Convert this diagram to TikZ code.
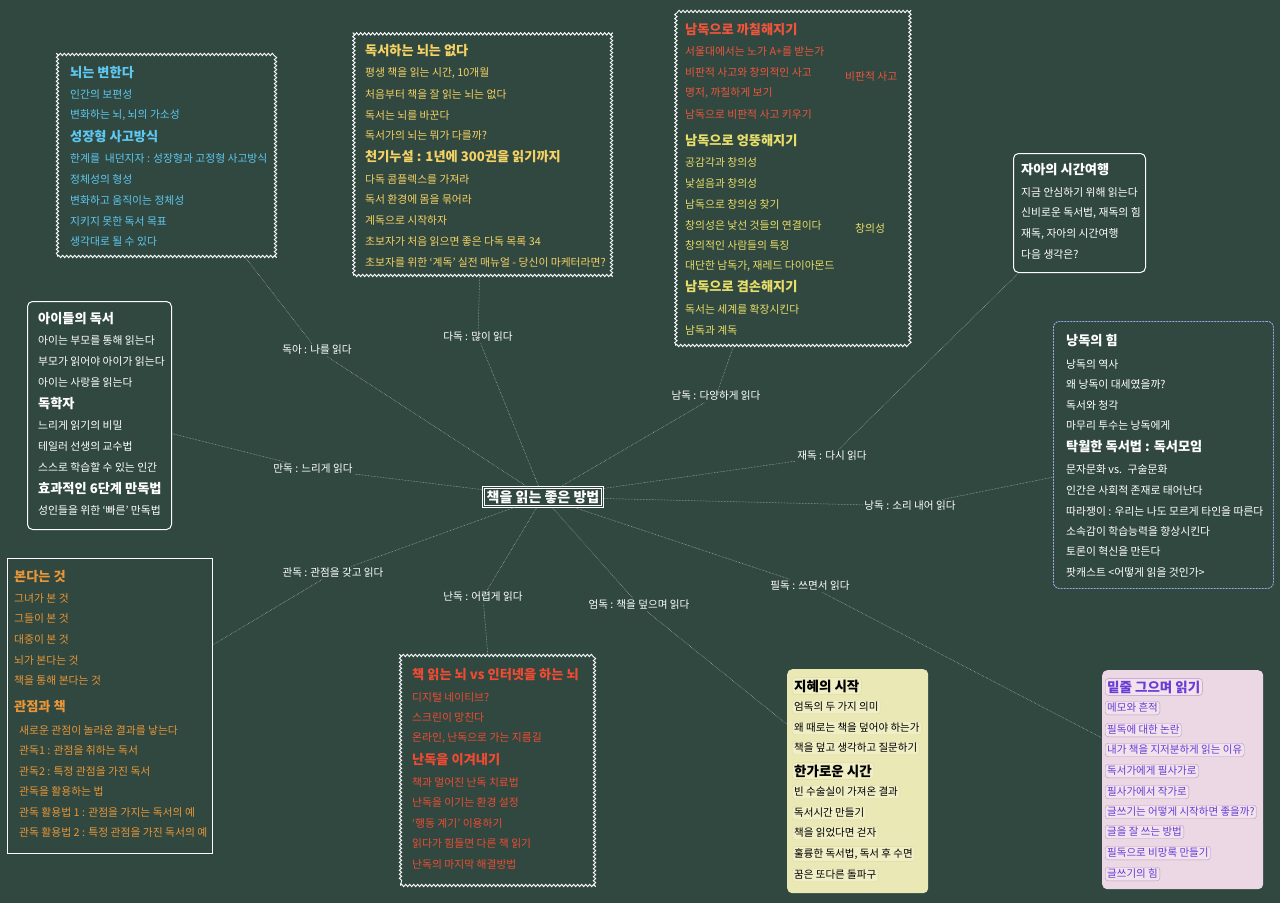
\documentclass[tikz,border=0pt]{standalone}
\usepackage{fontspec}
\setmainfont{Noto Sans CJK KR}
\usetikzlibrary{decorations.pathmorphing}
\definecolor{bg}{RGB}{48,72,64}
\definecolor{cyanT}{RGB}{95,200,240}
\definecolor{goldT}{RGB}{245,210,100}
\definecolor{redT}{RGB}{238,85,60}
\definecolor{yelT}{RGB}{232,222,105}
\definecolor{oraT}{RGB}{232,150,55}
\definecolor{red2T}{RGB}{240,75,50}
\definecolor{purT}{RGB}{105,60,215}
\definecolor{yfill}{RGB}{234,232,180}
\definecolor{yitemf}{RGB}{240,238,196}
\definecolor{yitemd}{RGB}{222,219,165}
\definecolor{pfill}{RGB}{236,216,228}
\definecolor{pitemf}{RGB}{241,226,236}
\definecolor{pitemd}{RGB}{185,150,195}
\definecolor{lav}{RGB}{150,170,230}
\definecolor{connC}{RGB}{185,195,190}
\begin{document}
\begin{tikzpicture}[x=1pt,y=-1pt,
  conn/.style={draw=connC, line width=0.5pt, densely dotted},
  lbl/.style={text=white, font=\fontsize{10.6}{12}\selectfont, inner sep=1.5pt},
  itm/.style={anchor=west, inner sep=0pt, font=\fontsize{10.8}{12}\selectfont},
  hdr/.style={anchor=west, inner sep=0pt, font=\fontsize{13.2}{15}\selectfont\bfseries},
  wavy/.style={draw=white, line width=0.9pt, decorate, decoration={snake, segment length=4pt, amplitude=1.2pt}, anchor=north west, inner sep=0pt},
  rbox/.style={draw=white, line width=1pt, rounded corners=5pt, anchor=north west, inner sep=0pt},
  yit/.style={anchor=west, inner sep=2pt, rounded corners=3pt, draw=yitemd, fill=yitemf, text=black, font=\fontsize{10.5}{12}\selectfont},
  yhd/.style={yit, font=\fontsize{13.5}{15}\selectfont\bfseries},
  pit/.style={anchor=west, inner sep=2pt, rounded corners=3pt, draw=pitemd, fill=pitemf, text=purT, font=\fontsize{10.5}{12}\selectfont},
  phd/.style={pit, font=\fontsize{13.5}{15}\selectfont\bfseries}
]
\fill[bg] (0,0) rectangle (1280,903);
\useasboundingbox (0,0) rectangle (1280,903);

% ---------- boxes ----------
\node[wavy, minimum width=218pt, minimum height=203pt] (b1) at (57,53) {};
\node[wavy, minimum width=259pt, minimum height=244pt] (b2) at (353,31) {};
\node[wavy, minimum width=233pt, minimum height=334pt] (b3) at (675,11) {};
\node[rbox, minimum width=132pt, minimum height=119pt] (b4) at (1013,153) {};
\node[draw=lav, line width=0.9pt, rounded corners=6pt, dash pattern=on 2pt off 1pt, anchor=north west, inner sep=0pt, minimum width=220pt, minimum height=267pt] (b5) at (1053,321) {};
\node[rbox, minimum width=144pt, minimum height=228pt] (b6) at (27,301) {};
\node[draw=white, line width=1pt, anchor=north west, inner sep=0pt, minimum width=205pt, minimum height=295pt] (b7) at (7,558) {};
\node[wavy, minimum width=194pt, minimum height=230pt] (b8) at (400,655) {};
\node[fill=yfill, rounded corners=5pt, anchor=north west, inner sep=0pt, minimum width=141pt, minimum height=224pt] (b9) at (787,669) {};
\node[fill=pfill, rounded corners=5pt, anchor=north west, inner sep=0pt, minimum width=161pt, minimum height=219pt] (b10) at (1102,670) {};

% ---------- box 1 ----------
\begin{scope}[text=cyanT]
\node[hdr] (a1) at (70,73) {뇌는 변한다};
\node[itm] (a2) at (70,94) {인간의 보편성};
\node[itm] (a3) at (70,115) {변화하는 뇌, 뇌의 가소성};
\node[hdr] (a4) at (70,137) {성장형 사고방식};
\node[itm] (a5) at (70,158) {한계를 ~내던지자 : 성장형과 고정형 사고방식};
\node[itm] (a6) at (70,179) {정체성의 형성};
\node[itm] (a7) at (70,200) {변화하고 움직이는 정체성};
\node[itm] (a8) at (70,221) {지키지 못한 독서 목표};
\node[itm] (a9) at (70,241) {생각대로 될 수 있다};
\end{scope}

% ---------- box 2 ----------
\begin{scope}[text=goldT]
\node[hdr] (d1) at (365,51) {독서하는 뇌는 없다};
\node[itm] (d2) at (365,73) {평생 책을 읽는 시간, 10개월};
\node[itm] (d3) at (365,94) {처음부터 책을 잘 읽는 뇌는 없다};
\node[itm] (d4) at (365,115) {독서는 뇌를 바꾼다};
\node[itm] (d5) at (365,135) {독서가의 뇌는 뭐가 다를까?};
\node[hdr] (d6) at (365,157) {천기누설 : 1년에 300권을 읽기까지};
\node[itm] (d7) at (365,179) {다독 콤플렉스를 가져라};
\node[itm] (d8) at (365,199) {독서 환경에 몸을 묶어라};
\node[itm] (d9) at (365,220) {계독으로 시작하자};
\node[itm] (d10) at (365,241) {초보자가 처음 읽으면 좋은 다독 목록 34};
\node[itm] (d11) at (365,262) {초보자를 위한 `계독' 실전 매뉴얼 - 당신이 마케터라면?};
\end{scope}

% ---------- box 3 ----------
\begin{scope}[text=redT]
\node[hdr] (n1) at (685,30) {남독으로 까칠해지기};
\node[itm] (n2) at (685,51) {서울대에서는 노가 A+를 받는가};
\node[itm] (n3) at (685,72) {비판적 사고와 창의적인 사고};
\node[itm] (n4) at (685,93) {명저, 까칠하게 보기};
\node[itm] (n5) at (685,114) {남독으로 비판적 사고 키우기};
\node[itm] (n6) at (845,76) {비판적 사고};
\end{scope}
\begin{scope}[text=yelT]
\node[hdr] (n7) at (685,141) {남독으로 엉뚱해지기};
\node[itm] (n8) at (685,162) {공감각과 창의성};
\node[itm] (n9) at (685,183) {낯설음과 창의성};
\node[itm] (n10) at (685,204) {남독으로 창의성 찾기};
\node[itm] (n11) at (685,225) {창의성은 낯선 것들의 연결이다};
\node[itm] (n12) at (685,245) {창의적인 사람들의 특징};
\node[itm] (n13) at (685,266) {대단한 남독가, 재레드 다이아몬드};
\node[hdr] (n14) at (685,287) {남독으로 겸손해지기};
\node[itm] (n15) at (685,309) {독서는 세계를 확장시킨다};
\node[itm] (n16) at (685,330) {남독과 계독};
\node[itm] (n17) at (855,228) {창의성};
\end{scope}

% ---------- box 4 ----------
\begin{scope}[text=white]
\node[hdr] (j1) at (1021,170) {자아의 시간여행};
\node[itm] (j2) at (1021,192) {지금 안심하기 위해 읽는다};
\node[itm] (j3) at (1021,213) {신비로운 독서법, 재독의 힘};
\node[itm] (j4) at (1021,234) {재독, 자아의 시간여행};
\node[itm] (j5) at (1021,254) {다음 생각은?};
\end{scope}

% ---------- box 5 ----------
\begin{scope}[text=white]
\node[hdr] (r1) at (1066,341) {낭독의 힘};
\node[itm] (r2) at (1066,364) {낭독의 역사};
\node[itm] (r3) at (1066,384) {왜 낭독이 대세였을까?};
\node[itm] (r4) at (1066,405) {독서와 청각};
\node[itm] (r5) at (1066,425) {마무리 투수는 낭독에게};
\node[hdr] (r6) at (1066,447) {탁월한 독서법 : 독서모임};
\node[itm] (r7) at (1066,469) {문자문화 vs. ~구술문화};
\node[itm] (r8) at (1066,490) {인간은 사회적 존재로 태어난다};
\node[itm] (r9) at (1066,511) {따라쟁이 : 우리는 나도 모르게 타인을 따른다};
\node[itm] (r10) at (1066,531) {소속감이 학습능력을 향상시킨다};
\node[itm] (r11) at (1066,551) {토론이 혁신을 만든다};
\node[itm] (r12) at (1066,572) {팟캐스트 <어떻게 읽을 것인가>};
\end{scope}

% ---------- box 6 ----------
\begin{scope}[text=white]
\node[hdr] (m1) at (38,319) {아이들의 독서};
\node[itm] (m2) at (38,340) {아이는 부모를 통해 읽는다};
\node[itm] (m3) at (38,361) {부모가 읽어야 아이가 읽는다};
\node[itm] (m4) at (38,382) {아이는 사랑을 읽는다};
\node[hdr] (m5) at (38,404) {독학자};
\node[itm] (m6) at (38,425) {느리게 읽기의 비밀};
\node[itm] (m7) at (38,446) {테일러 선생의 교수법};
\node[itm] (m8) at (38,467) {스스로 학습할 수 있는 인간};
\node[hdr] (m9) at (38,489) {효과적인 6단계 만독법};
\node[itm] (m10) at (38,510) {성인들을 위한 `빠른' 만독법};
\end{scope}

% ---------- box 7 ----------
\begin{scope}[text=oraT]
\node[hdr] (g1) at (14,577) {본다는 것};
\node[itm] (g2) at (14,598) {그녀가 본 것};
\node[itm] (g3) at (14,618) {그들이 본 것};
\node[itm] (g4) at (14,639) {대중이 본 것};
\node[itm] (g5) at (14,660) {뇌가 본다는 것};
\node[itm] (g6) at (14,680) {책을 통해 본다는 것};
\node[hdr] (g7) at (14,707) {관점과 책};
\node[itm] (g8) at (19,730) {새로운 관점이 놀라운 결과를 낳는다};
\node[itm] (g9) at (19,750) {관독1 : 관점을 취하는 독서};
\node[itm] (g10) at (19,771) {관독2 : 특정 관점을 가진 독서};
\node[itm] (g11) at (19,791) {관독을 활용하는 법};
\node[itm] (g12) at (19,812) {관독 활용법 1 : 관점을 가지는 독서의 예};
\node[itm] (g13) at (19,832) {관독 활용법 2 : 특정 관점을 가진 독서의 예};
\end{scope}

% ---------- box 8 ----------
\begin{scope}[text=red2T]
\node[hdr] (k1) at (412,675) {책 읽는 뇌 vs 인터넷을 하는 뇌};
\node[itm] (k2) at (412,697) {디지털 네이티브?};
\node[itm] (k3) at (412,717) {스크린이 망친다};
\node[itm] (k4) at (412,738) {온라인, 난독으로 가는 지름길};
\node[hdr] (k5) at (412,760) {난독을 이겨내기};
\node[itm] (k6) at (412,782) {책과 멀어진 난독 치료법};
\node[itm] (k7) at (412,802) {난독을 이기는 환경 설정};
\node[itm] (k8) at (412,823) {`행동 계기' 이용하기};
\node[itm] (k9) at (412,843) {읽다가 힘들면 다른 책 읽기};
\node[itm] (k10) at (412,864) {난독의 마지막 해결방법};
\end{scope}

% ---------- box 9 ----------
\node[yhd] (w1) at (792,686) {지혜의 시작};
\node[yit] (w2) at (792,707) {엄독의 두 가지 의미};
\node[yit] (w3) at (792,728) {왜 때로는 책을 덮어야 하는가};
\node[yit] (w4) at (792,748) {책을 덮고 생각하고 질문하기};
\node[yhd] (w5) at (792,771) {한가로운 시간};
\node[yit] (w6) at (792,792) {빈 수술실이 가져온 결과};
\node[yit] (w7) at (792,813) {독서시간 만들기};
\node[yit] (w8) at (792,833) {책을 읽었다면 걷자};
\node[yit] (w9) at (792,854) {훌륭한 독서법, 독서 후 수면};
\node[yit] (w10) at (792,875) {꿈은 또다른 돌파구};

% ---------- box 10 ----------
\node[phd] (p1) at (1105,687) {밑줄 그으며 읽기};
\node[pit] (p2) at (1105,708) {메모와 흔적};
\node[pit] (p3) at (1105,730) {필독에 대한 논란};
\node[pit] (p4) at (1105,750) {내가 책을 지저분하게 읽는 이유};
\node[pit] (p5) at (1105,771) {독서가에게 필사가로};
\node[pit] (p6) at (1105,792) {필사가에서 작가로};
\node[pit] (p7) at (1105,812) {글쓰기는 어떻게 시작하면 좋을까?};
\node[pit] (p8) at (1105,832) {글을 잘 쓰는 방법};
\node[pit] (p9) at (1105,853) {필독으로 비망록 만들기};
\node[pit] (p10) at (1105,874) {글쓰기의 힘};

% ---------- center & labels ----------
\node[draw=white, double=bg, double distance=1.2pt, line width=0.7pt, inner sep=3pt, text=white, font=\fontsize{14}{16}\selectfont\bfseries] (c) at (543,497) {책을 읽는 좋은 방법};
\node[lbl] (l1) at (317,350) {독아 : 나를 읽다};
\node[lbl] (l2) at (478,337) {다독 : 많이 읽다};
\node[lbl] (l3) at (716,396) {남독 : 다양하게 읽다};
\node[lbl] (l4) at (832,456) {재독 : 다시 읽다};
\node[lbl] (l5) at (910,506) {낭독 : 소리 내어 읽다};
\node[lbl] (l6) at (810,586) {필독 : 쓰면서 읽다};
\node[lbl] (l7) at (639,605) {엄독 : 책을 덮으며 읽다};
\node[lbl] (l8) at (483,597) {난독 : 어렵게 읽다};
\node[lbl] (l9) at (333,573) {관독 : 관점을 갖고 읽다};
\node[lbl] (l10) at (313,469) {만독 : 느리게 읽다};

% ---------- connectors ----------
\draw[conn] (c) -- (l1);  \draw[conn] (l1) -- (b1);
\draw[conn] (c) -- (l2);  \draw[conn] (l2) -- (b2);
\draw[conn] (c) -- (l3);  \draw[conn] (l3) -- (b3);
\draw[conn] (c) -- (l4);  \draw[conn] (l4) -- (b4);
\draw[conn] (c) -- (l5);  \draw[conn] (l5) -- (b5);
\draw[conn] (c) -- (l6);  \draw[conn] (l6) -- (b10);
\draw[conn] (c) -- (l7);  \draw[conn] (l7) -- (b9);
\draw[conn] (c) -- (l8);  \draw[conn] (l8) -- (b8);
\draw[conn] (c) -- (l9);  \draw[conn] (l9) -- (b7);
\draw[conn] (c) -- (l10); \draw[conn] (l10) -- (b6);
\end{tikzpicture}
\end{document}
